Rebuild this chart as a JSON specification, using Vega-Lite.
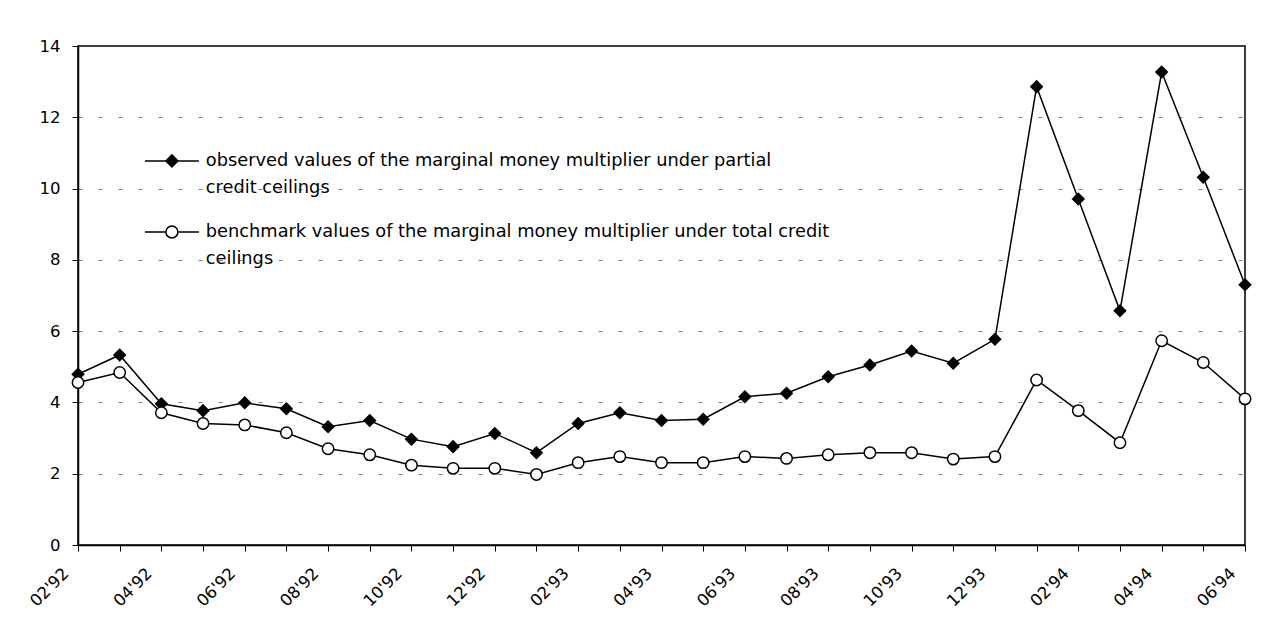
{
  "$schema": "https://vega.github.io/schema/vega-lite/v6.json",
  "width": 1167,
  "height": 499,
  "autosize": {"type": "none"},
  "padding": {"left": 78, "top": 46, "right": 29, "bottom": 85},
  "background": "white",
  "config": {
    "view": {"stroke": "black", "strokeWidth": 1.5},
    "font": "DejaVu Sans",
    "style": {"guide-label": {"lineHeight": 27}},
    "axis": {
      "labelFont": "DejaVu Sans",
      "labelFontSize": 16.5,
      "labelColor": "black",
      "domainColor": "black",
      "domainWidth": 1.5,
      "tickColor": "black",
      "tickWidth": 1,
      "tickSize": 6,
      "title": null
    }
  },
  "data": {
    "values": [
      {"month": "02'92", "observed": 4.79, "benchmark": 4.56},
      {"month": "03'92", "observed": 5.33, "benchmark": 4.84},
      {"month": "04'92", "observed": 3.96, "benchmark": 3.71},
      {"month": "05'92", "observed": 3.77, "benchmark": 3.41},
      {"month": "06'92", "observed": 3.99, "benchmark": 3.37},
      {"month": "07'92", "observed": 3.82, "benchmark": 3.15},
      {"month": "08'92", "observed": 3.32, "benchmark": 2.70},
      {"month": "09'92", "observed": 3.49, "benchmark": 2.53},
      {"month": "10'92", "observed": 2.97, "benchmark": 2.24},
      {"month": "11'92", "observed": 2.76, "benchmark": 2.15},
      {"month": "12'92", "observed": 3.13, "benchmark": 2.15},
      {"month": "01'93", "observed": 2.59, "benchmark": 1.98},
      {"month": "02'93", "observed": 3.41, "benchmark": 2.31},
      {"month": "03'93", "observed": 3.71, "benchmark": 2.48},
      {"month": "04'93", "observed": 3.49, "benchmark": 2.31},
      {"month": "05'93", "observed": 3.53, "benchmark": 2.31},
      {"month": "06'93", "observed": 4.16, "benchmark": 2.48},
      {"month": "07'93", "observed": 4.26, "benchmark": 2.43},
      {"month": "08'93", "observed": 4.72, "benchmark": 2.53},
      {"month": "09'93", "observed": 5.05, "benchmark": 2.59},
      {"month": "10'93", "observed": 5.44, "benchmark": 2.59},
      {"month": "11'93", "observed": 5.10, "benchmark": 2.41},
      {"month": "12'93", "observed": 5.77, "benchmark": 2.48},
      {"month": "01'94", "observed": 12.86, "benchmark": 4.63},
      {"month": "02'94", "observed": 9.71, "benchmark": 3.77},
      {"month": "03'94", "observed": 6.57, "benchmark": 2.87},
      {"month": "04'94", "observed": 13.27, "benchmark": 5.73},
      {"month": "05'94", "observed": 10.32, "benchmark": 5.12},
      {"month": "06'94", "observed": 7.30, "benchmark": 4.10}
    ]
  },
  "transform": [
    {"fold": ["observed", "benchmark"], "as": ["series", "value"]}
  ],
  "encoding": {
    "x": {
      "field": "month",
      "type": "ordinal",
      "sort": null,
      "scale": {"type": "point", "padding": 0},
      "axis": {
        "labelAngle": -45,
        "labelOverlap": false,
        "labelPadding": 14,
        "labelOffset": -18,
        "labelExpr": "parseInt(slice(datum.value, 0, 2)) % 2 == 0 ? datum.value : ''"
      }
    },
    "y": {
      "field": "value",
      "type": "quantitative",
      "scale": {"domain": [0, 14], "nice": false, "zero": true},
      "axis": {
        "values": [0, 2, 4, 6, 8, 10, 12, 14],
        "labelPadding": 12,
        "grid": true,
        "gridColor": "#808080",
        "gridDash": [4, 16],
        "gridWidth": 1,
        "gridOpacity": {"condition": {"test": "datum.value == 0 || datum.value == 14", "value": 0}, "value": 1}
      }
    }
  },
  "layer": [
    {
      "mark": {"type": "line", "color": "black", "strokeWidth": 1.5},
      "encoding": {"detail": {"field": "series"}}
    },
    {
      "mark": {"type": "point", "filled": true, "size": 130, "stroke": "black", "strokeWidth": 1.5, "opacity": 1},
      "encoding": {
        "shape": {
          "field": "series",
          "scale": {"domain": ["observed", "benchmark"], "range": ["diamond", "circle"]},
          "legend": null
        },
        "fill": {
          "field": "series",
          "scale": {"domain": ["observed", "benchmark"], "range": ["black", "white"]},
          "legend": null
        }
      }
    },
    {
      "transform": [{"filter": "false"}],
      "mark": {"type": "point", "filled": true, "strokeWidth": 1.5},
      "encoding": {
        "shape": {
          "field": "series",
          "scale": {
            "domain": ["observed", "benchmark"],
            "range": [
              "M-5.4,0H5.4M0,-1.2L1.2,0L0,1.2L-1.2,0Z",
              "M-5.4,0H-1.2M1.2,0H5.4M-1.2,0A1.2,1.2 0 1,0 1.2,0A1.2,1.2 0 1,0 -1.2,0Z"
            ]
          },
          "legend": {
            "title": null,
            "orient": "none",
            "legendX": 85,
            "legendY": 106,
            "symbolSize": 100,
            "symbolStrokeWidth": 1.5,
            "symbolOpacity": 1,
            "labelFont": "DejaVu Sans",
            "labelFontSize": 17.8,
            "labelColor": "black",
            "labelLimit": 1000,
            "labelOffset": 25,
            "labelBaseline": "middle",
            "rowPadding": 25,
            "labelExpr": "datum.value == 'observed' ? ['observed values of the marginal money multiplier under partial', 'credit ceilings'] : ['benchmark values of the marginal money multiplier under total credit', 'ceilings']"
          }
        },
        "fill": {
          "field": "series",
          "scale": {"domain": ["observed", "benchmark"], "range": ["black", "white"]},
          "legend": {"title": null}
        },
        "stroke": {
          "field": "series",
          "scale": {"domain": ["observed", "benchmark"], "range": ["black", "black"]},
          "legend": {"title": null}
        }
      }
    }
  ],
  "resolve": {"scale": {"shape": "independent", "fill": "independent", "stroke": "independent"}}
}
